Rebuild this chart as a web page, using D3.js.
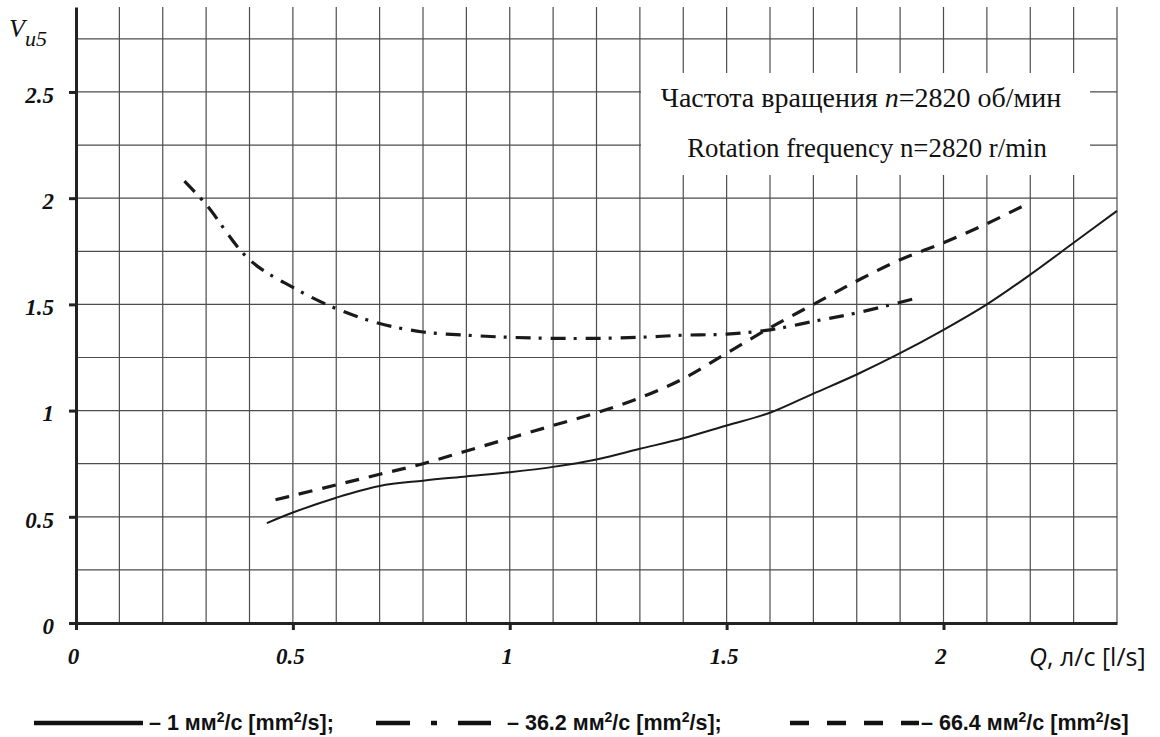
<!DOCTYPE html>
<html>
<head>
<meta charset="utf-8">
<script src="https://cdn.jsdelivr.net/npm/d3@7"></script>
<style>
body { margin: 0; background: #fff; }
</style>
</head>
<body>
<script>
// flow rate Q, l/s  and  V_u5 readings for each viscosity
var qSolid = [0.44, 0.5, 0.6, 0.7, 0.8, 0.9, 1.0, 1.1, 1.2, 1.3, 1.4, 1.5, 1.6, 1.7, 1.8, 1.9, 2.0, 2.1, 2.2, 2.3, 2.4];
var vSolid = [0.47, 0.52, 0.59, 0.645, 0.67, 0.69, 0.71, 0.735, 0.77, 0.82, 0.87, 0.93, 0.99, 1.08, 1.17, 1.27, 1.38, 1.50, 1.64, 1.79, 1.94];

var qDashDot = [0.25, 0.3, 0.4, 0.5, 0.6, 0.7, 0.8, 0.9, 1.0, 1.1, 1.2, 1.3, 1.4, 1.5, 1.6, 1.7, 1.8, 1.93];
var vDashDot = [2.08, 1.97, 1.71, 1.58, 1.48, 1.41, 1.37, 1.355, 1.345, 1.34, 1.34, 1.345, 1.355, 1.36, 1.38, 1.42, 1.46, 1.525];

var qDashed = [0.46, 0.5, 0.6, 0.7, 0.8, 0.9, 1.0, 1.1, 1.2, 1.3, 1.4, 1.5, 1.6, 1.7, 1.8, 1.9, 2.0, 2.1, 2.19];
var vDashed = [0.58, 0.6, 0.65, 0.7, 0.75, 0.81, 0.87, 0.93, 0.99, 1.06, 1.15, 1.27, 1.39, 1.50, 1.61, 1.71, 1.79, 1.88, 1.97];

var xTicks = [0, 0.5, 1, 1.5, 2];
var yTicks = [0, 0.5, 1, 1.5, 2, 2.5];
var xGrid = d3.range(1, 25).map(function(i) { return i / 10; });
var yGrid = d3.range(1, 12).map(function(i) { return i / 4; });

var legendNames = ["1", "36.2", "66.4"];

var margin = {top: 7, right: 43, bottom: 114, left: 76};
var width = 1160 - margin.left - margin.right;
var height = 737 - margin.top - margin.bottom;

var svg = d3.select("body").append("svg")
  .attr("width", 1160)
  .attr("height", 737);

var g = svg.append("g")
  .attr("transform", "translate(" + margin.left + "," + margin.top + ")");

var x = d3.scaleLinear().domain([0, 2.4]).range([0, width]);
var y = d3.scaleLinear().domain([0, 2.9]).range([height, 0]);

// grid
g.selectAll(".vgrid").data(xGrid).enter().append("line")
  .attr("x1", function(d) { return x(d); })
  .attr("x2", function(d) { return x(d); })
  .attr("y1", 0).attr("y2", height)
  .attr("stroke", "#4d4d4d").attr("stroke-width", 1.2);

g.selectAll(".hgrid").data(yGrid).enter().append("line")
  .attr("x1", 0).attr("x2", width)
  .attr("y1", function(d) { return y(d); })
  .attr("y2", function(d) { return y(d); })
  .attr("stroke", "#4d4d4d").attr("stroke-width", 1.2);

// note box over the grid
g.append("rect")
  .attr("x", 565).attr("y", 66)
  .attr("width", 449).attr("height", 102)
  .attr("fill", "#fff");

var serif = "'Liberation Serif', 'Times New Roman', serif";

var note1 = g.append("text")
  .attr("x", 785).attr("y", 100)
  .attr("text-anchor", "middle")
  .style("font-family", serif)
  .style("font-size", "28px")
  .attr("fill", "#111");
note1.append("tspan").text("Частота вращения ");
note1.append("tspan").style("font-style", "italic").text("n");
note1.append("tspan").text("=2820 об/мин");

g.append("text")
  .attr("x", 791).attr("y", 150)
  .attr("text-anchor", "middle")
  .style("font-family", serif)
  .style("font-size", "26.8px")
  .attr("fill", "#111")
  .text("Rotation frequency n=2820 r/min");

// curves
var lineFunction = d3.line()
  .x(function(d) { return x(d[0]); })
  .y(function(d) { return y(d[1]); })
  .curve(d3.curveCatmullRom.alpha(0.5));

var curves = [
  {q: qSolid, v: vSolid, dash: null, w: 2},
  {q: qDashDot, v: vDashDot, dash: "15,8,3,9", w: 3.2},
  {q: qDashed, v: vDashed, dash: "14,10", w: 3.2}
];

curves.forEach(function(c) {
  g.append("path")
    .attr("d", lineFunction(d3.zip(c.q, c.v)))
    .attr("fill", "none")
    .attr("stroke", "#1a1a1a")
    .attr("stroke-width", c.w)
    .attr("stroke-dasharray", c.dash);
});

// axes
var yAxis = g.append("g")
  .call(d3.axisLeft(y).tickValues(yTicks).tickSize(7).tickSizeOuter(0).tickPadding(15)
    .tickFormat(function(d) { return d; }));
var xAxis = g.append("g")
  .attr("transform", "translate(0," + height + ")")
  .call(d3.axisBottom(x).tickValues(xTicks).tickSize(7).tickSizeOuter(0).tickPadding(18)
    .tickFormat(function(d) { return d; }));

[yAxis, xAxis].forEach(function(a) {
  a.select(".domain").attr("stroke", "#222").attr("stroke-width", 3);
  a.selectAll(".tick line").attr("stroke", "#222").attr("stroke-width", 3);
  a.selectAll(".tick text")
    .attr("fill", "#111")
    .style("font-family", serif)
    .style("font-size", "23px")
    .style("font-weight", "bold")
    .style("font-style", "italic");
});
yAxis.selectAll(".tick text").attr("dy", "0.45em");
xAxis.selectAll(".tick text").attr("dx", -3);

// axis titles
var yTitle = svg.append("text")
  .attr("x", 9).attr("y", 37)
  .style("font-family", serif)
  .style("font-style", "italic")
  .attr("fill", "#111");
yTitle.append("tspan").style("font-size", "26px").text("V");
yTitle.append("tspan").attr("dy", 9).style("font-size", "22px").text("u5");

var xTitle = svg.append("text")
  .attr("x", 1029).attr("y", 666)
  .style("font-family", "'Open Sans', 'Liberation Sans', sans-serif")
  .style("font-size", "25px")
  .attr("fill", "#111");
xTitle.append("tspan").style("font-style", "italic").text("Q");
xTitle.append("tspan").text(", л/с [l/s]");

// legend
var legendY = 723;
var legendItems = [
  {x1: 34, x2: 143, dash: null, tx: 149, semi: ";"},
  {x1: 376, x2: 491, dash: "34,21,6,21,34", tx: 507, semi: ";"},
  {x1: 790, x2: 919, dash: "19,18", tx: 921, semi: ""}
];

legendItems.forEach(function(it, i) {
  svg.append("line")
    .attr("x1", it.x1).attr("x2", it.x2)
    .attr("y1", legendY).attr("y2", legendY)
    .attr("stroke", "#111")
    .attr("stroke-width", 4.5)
    .attr("stroke-dasharray", it.dash);
  var t = svg.append("text")
    .attr("x", it.tx).attr("y", legendY + 7)
    .style("font-family", "'Liberation Sans', Arial, sans-serif")
    .style("font-size", "21.5px")
    .style("font-weight", "bold")
    .attr("fill", "#111");
  t.append("tspan").text("– " + legendNames[i] + " мм");
  t.append("tspan").attr("dy", -8).style("font-size", "14px").text("2");
  t.append("tspan").attr("dy", 8).text("/с [mm");
  t.append("tspan").attr("dy", -8).style("font-size", "14px").text("2");
  t.append("tspan").attr("dy", 8).text("/s]" + it.semi);
});
</script>
</body>
</html>
